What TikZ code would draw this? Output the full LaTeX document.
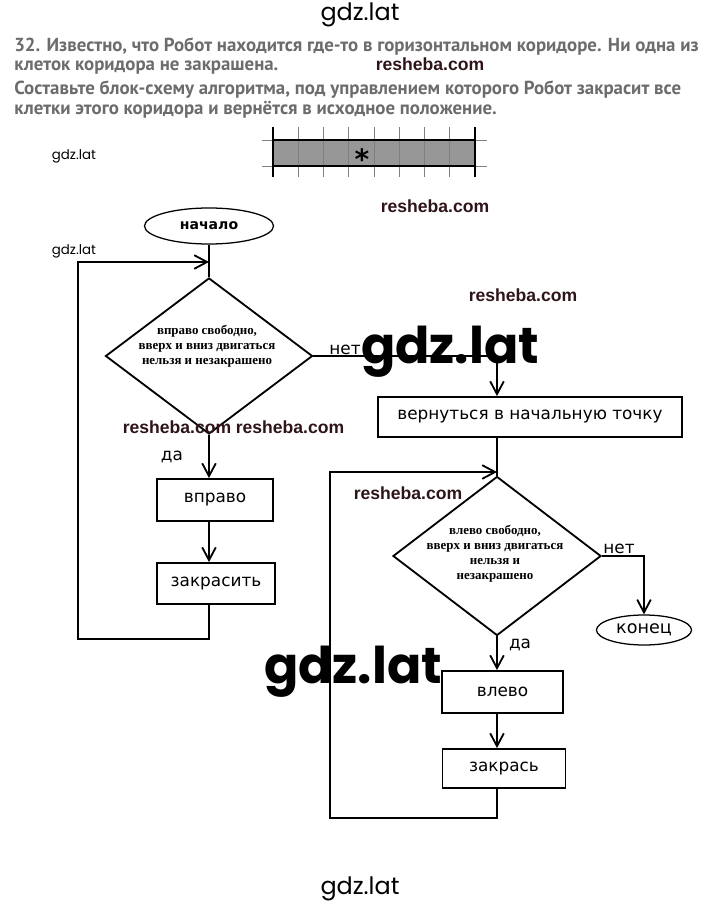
\documentclass[tikz,border=0pt]{standalone}
\usepackage{fontspec}
\setmainfont{DejaVu Sans}
\newfontfamily\taskfont{PT Sans}
\newfontfamily\condfont{Liberation Serif}
\newfontfamily\wmfont{Poppins}
\newfontfamily\reshfont{Liberation Sans}
\usepackage{tikz}
\usetikzlibrary{shapes.geometric, arrows.meta, positioning, calc}
\definecolor{taskgray}{HTML}{6C6C6C}
\definecolor{reshred}{HTML}{2E1418}
\definecolor{corrgray}{HTML}{979797}

\begin{document}
\begin{tikzpicture}[
    x=0.025cm, y=-0.025cm,
    box/.style={rectangle, draw, line width=1.3pt, font=\fontsize{12}{14}\selectfont, inner sep=2pt},
    term/.style={ellipse, draw, line width=0.9pt, inner sep=0pt},
    cond/.style={diamond, draw, line width=1.3pt, inner sep=0pt},
    condtxt/.style={align=center, inner sep=0pt, font=\condfont\bfseries\fontsize{9.2}{10.6}\selectfont},
    lbl/.style={inner sep=0pt, font=\fontsize{12}{14}\selectfont},
    task/.style={anchor=west, text=taskgray, inner sep=0pt, font=\taskfont\bfseries\fontsize{13.4}{15}\selectfont},
    resh/.style={text=reshred, inner sep=0pt, font=\reshfont\bfseries\fontsize{12.5}{14}\selectfont},
    gdz/.style={inner sep=0pt, font=\wmfont\fontsize{9.5}{11}\selectfont},
    gdzbig/.style={inner sep=0pt, font=\wmfont\bfseries\fontsize{36}{40}\selectfont},
    arr/.style={-{Straight Barb[length=3.2mm, width=3.4mm]}, line width=1.3pt}
]
\useasboundingbox (0,0) rectangle (720,907);

% task
\node[gdz, font=\wmfont\fontsize{17}{19}\selectfont] (gtop) at (360,15) {gdz.lat};
\node[task] (t1) at (14,47) {32. Известно, что Робот находится где-то в горизонтальном коридоре. Ни одна из};
\node[task] (t2) at (14,68) {клеток коридора не закрашена.};
\node[task] (t3) at (14,90) {Составьте блок-схему алгоритма, под управлением которого Робот закрасит все};
\node[task] (t4) at (14,110) {клетки этого коридора и вернётся в исходное положение.};

% corridor
\fill[corrgray] (273,140) rectangle (475,166);
\draw[gray, line width=0.6pt] (262,140) -- (487,140) (262,166) -- (487,166);
\foreach \i in {1,...,7}
    \draw[gray, line width=0.6pt] (273+\i*25.25,127) -- (273+\i*25.25,177);
\draw[line width=1.3pt] (273,140) -- (475,140) (273,166) -- (475,166);
\draw[line width=1.6pt] (273,127) -- (273,177) (475,127) -- (475,177);
\node[inner sep=0pt, font=\bfseries\fontsize{20}{20}\selectfont] (star) at (362,159) {*};

% first loop
\node[term, minimum width=3.225cm, minimum height=0.9cm, font=\bfseries\fontsize{10}{12}\selectfont] (start) at (209,226) {начало};
\node[cond, minimum width=5.175cm, minimum height=3.9cm] (c1) at (209,356) {};
\node[condtxt] (c1t) at (207,346) {вправо свободно,\\вверх и вниз двигаться\\нельзя и незакрашено};
\node[box, minimum width=2.9cm, minimum height=1.05cm] (right1) at (215,500) {вправо};
\node[box, minimum width=2.95cm, minimum height=1.025cm] (paint1) at (216,583.5) {закрасить};
\coordinate (j1) at (209,262);
\coordinate (l1) at (78,639);

\draw[line width=1.3pt] (start) -- (c1);
\draw[arr] (c1.south) -- (right1.north -| c1.south);
\draw[arr] (right1.south -| c1.south) -- (paint1.north -| c1.south);
\draw[arr] (paint1.south -| c1.south) |- (l1) |- (j1);
\node[lbl] (yes1) at (172,457) {да};
\node[lbl] (no1) at (345,350) {нет};

% return
\node[box, minimum width=7.6cm, minimum height=1.0cm] (back) at (530,417) {вернуться в начальную точку};

% second loop
\node[cond, minimum width=5.2cm, minimum height=3.975cm] (c2) at (497,556) {};
\node[condtxt] (c2t) at (495,554) {влево свободно,\\вверх и вниз двигаться\\нельзя и\\незакрашено};
\node[box, minimum width=3.025cm, minimum height=1.05cm] (left2) at (502.5,692) {влево};
\node[box, minimum width=3.075cm, minimum height=0.975cm] (paint2) at (504,768.5) {закрась};
\node[term, minimum width=2.375cm, minimum height=0.75cm, font=\fontsize{12.5}{14}\selectfont] (stop) at (644,630) {конец};
\coordinate (j2) at (497,472);
\coordinate (l2) at (330,818);

\draw[arr] (c1.east) -| (back.north -| c2.north);
\draw[line width=1.3pt] (back.south -| c2.north) -- (c2.north);
\draw[arr] (c2.south) -- (left2.north -| c2.south);
\draw[arr] (left2.south -| c2.south) -- (paint2.north -| c2.south);
\draw[arr] (paint2.south -| c2.south) |- (l2) |- (j2);
\draw[arr] (c2.east) -| (stop.north);
\node[lbl] (no2) at (619,549) {нет};
\node[lbl] (yes2) at (520,645) {да};

% watermarks
\node[resh] (r1) at (430,64) {resheba.com};
\node[resh] (r2) at (435,206) {resheba.com};
\node[resh] (r3) at (523,295) {resheba.com};
\node[resh] (r4) at (177,427) {resheba.com};
\node[resh] (r5) at (290,427) {resheba.com};
\node[resh] (r6) at (408,493) {resheba.com};
\node[gdz] (g1) at (74,156) {gdz.lat};
\node[gdz] (g2) at (74,251) {gdz.lat};
\node[gdzbig] (g3) at (450,352) {gdz.lat};
\node[gdzbig] (g4) at (353,672) {gdz.lat};
\node[gdz, font=\wmfont\fontsize{17}{19}\selectfont] (gbot) at (360,889) {gdz.lat};
\end{tikzpicture}
\end{document}
